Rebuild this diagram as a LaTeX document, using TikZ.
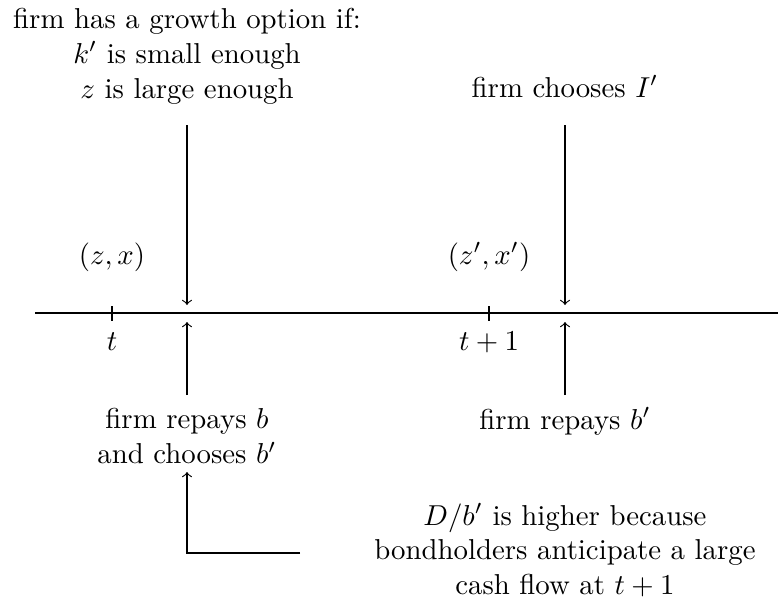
\documentclass[tikz,border=0pt]{standalone}
\begin{document}
\begin{tikzpicture}[x=0.3472pt,y=-0.3472pt,
  txt/.style={inner sep=0pt,align=center},
  lbl/.style={inner sep=0pt,anchor=base},
  axisline/.style={line width=0.4pt},
  conn/.style={line width=0.4pt,->}]
\useasboundingbox (0,0) rectangle (780,598);
% axis
\coordinate (axL) at (35,313);
\coordinate (axR) at (778,313);
\draw[axisline] (axL) -- (axR);
\coordinate (tA) at (112,306); \coordinate (tB) at (112,321);
\coordinate (uA) at (489,306); \coordinate (uB) at (489,321);
\draw[axisline] (tA) -- (tB);
\draw[axisline] (uA) -- (uB);
% labels on axis
\node[lbl] (zx) at (112,264) {$(z,x)$};
\node[lbl] (zxp) at (489,264) {$(z',x')$};
\node[lbl] (t) at (112,350) {$t$};
\node[lbl] (tp) at (489,350) {$t+1$};
% top texts
\node[txt,anchor=north] (growth) at (187,8) {firm has a growth option if:\\ $k'$ is small enough\\ $z$ is large enough};
\node[lbl] (chooseI) at (565,97) {firm chooses $I'$};
% bottom texts
\node[txt,anchor=north] (repay) at (187,408) {firm repays $b$\\ and chooses $b'$};
\node[lbl] (repay2) at (565,429) {firm repays $b'$};
\node[txt,anchor=north] (dbp) at (565,503) {$D/b'$ is higher because\\ bondholders anticipate a large\\ cash flow at $t+1$};
% arrows
\coordinate (d1s) at (187,125); \coordinate (d1e) at (187,305);
\coordinate (d2s) at (565,125); \coordinate (d2e) at (565,305);
\coordinate (u1s) at (187,395); \coordinate (u1e) at (187,322);
\coordinate (u2s) at (565,395); \coordinate (u2e) at (565,322);
\draw[conn] (d1s) -- (d1e);
\draw[conn] (d2s) -- (d2e);
\draw[conn] (u1s) -- (u1e);
\draw[conn] (u2s) -- (u2e);
\coordinate (bS) at (300,553);
\coordinate (bE) at (187,472);
\draw[conn] (bS) -| (bE);
\end{tikzpicture}
\end{document}
